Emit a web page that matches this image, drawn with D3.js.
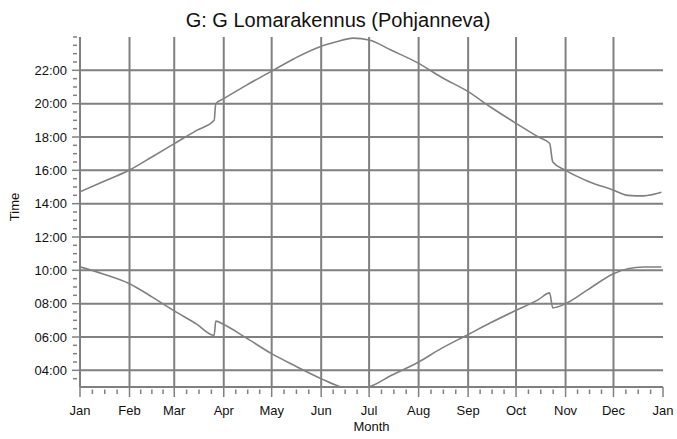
<!DOCTYPE html>
<html>
<head>
<meta charset="utf-8">
<script src="https://cdn.jsdelivr.net/npm/d3@7"></script>
<style>
  body { margin: 0; background: #fff; }
  text { font-family: Arial, "Liberation Sans", sans-serif; fill: #111; }
</style>
</head>
<body>
<svg id="chart" width="677" height="439"></svg>
<script>
// upper curve (evening)
var upperDates = ["01-01","01-15","02-01","02-15","03-01","03-15","03-26","03-27","04-01","04-15",
                  "05-01","05-15","06-01","06-10","06-21","07-01","07-15","08-01","08-15","09-01",
                  "09-15","10-01","10-15","10-22","10-24","11-01","11-15","12-01","12-10","12-20","12-31"];
var upperHours = [14.71,15.3,16.02,16.8,17.6,18.4,19.0,20.0,20.3,21.1,
                  21.95,22.7,23.45,23.7,23.93,23.82,23.2,22.42,21.6,20.72,
                  19.8,18.82,18.0,17.62,16.5,16.0,15.35,14.81,14.5,14.47,14.68];

// lower curve (morning)
var lowerDates = ["01-01","01-15","02-01","02-15","03-01","03-15","03-26","03-27","04-01","04-15",
                  "05-01","05-15","06-01","06-12","06-21","07-01","07-15","08-01","08-15","09-01",
                  "09-15","10-01","10-15","10-22","10-24","11-01","11-15","12-01","12-10","12-20","12-31"];
var lowerHours = [10.21,9.8,9.2,8.41,7.57,6.77,6.1,6.95,6.75,5.95,
                  5.0,4.3,3.5,3.05,2.9,3.02,3.7,4.5,5.3,6.15,
                  6.85,7.6,8.24,8.65,7.75,8.0,8.84,9.8,10.1,10.2,10.2];

var yTicks = [4,6,8,10,12,14,16,18,20,22];
var months = ["Jan","Feb","Mar","Apr","May","Jun","Jul","Aug","Sep","Oct","Nov","Dec","Jan"];

var svg = d3.select("#chart");
var margin = {top: 37, right: 14, bottom: 52, left: 80};
var width = 677 - margin.left - margin.right,
    height = 439 - margin.top - margin.bottom;
var grey = "#808080";

var parse = d3.timeParse("%Y-%m-%d");
var x = d3.scaleTime()
    .domain([new Date(2011, 0, 1), new Date(2012, 0, 1)])
    .range([0, width]);
var y = d3.scaleLinear().domain([3, 24]).range([height, 0]);

var g = svg.append("g").attr("transform", "translate(" + margin.left + "," + margin.top + ")");

var monthStarts = d3.timeMonth.range(new Date(2011, 0, 1), new Date(2012, 0, 2));

// grid
g.selectAll(".vgrid").data(monthStarts.slice(1, 12)).enter().append("line")
    .attr("x1", d => x(d)).attr("x2", d => x(d))
    .attr("y1", 0).attr("y2", height)
    .attr("stroke", grey).attr("stroke-width", 2);
g.selectAll(".hgrid").data(yTicks).enter().append("line")
    .attr("x1", 0).attr("x2", width)
    .attr("y1", d => y(d)).attr("y2", d => y(d))
    .attr("stroke", grey).attr("stroke-width", 2);

// minor ticks on x: quarters of each month
var minorX = [];
monthStarts.slice(0, 12).forEach(function(m, i) {
  var t0 = +m, t1 = +monthStarts[i + 1];
  for (var k = 1; k < 4; k++) minorX.push(new Date(t0 + (t1 - t0) * k / 4));
});
g.selectAll(".mx").data(minorX).enter().append("line")
    .attr("x1", d => x(d)).attr("x2", d => x(d))
    .attr("y1", height + 2.5).attr("y2", height + 7)
    .attr("stroke", grey).attr("stroke-width", 1.5);
g.selectAll(".Mx").data(monthStarts).enter().append("line")
    .attr("x1", d => x(d)).attr("x2", d => x(d))
    .attr("y1", height).attr("y2", height + 10)
    .attr("stroke", grey).attr("stroke-width", 1.5);
g.selectAll(".xl").data(monthStarts).enter().append("text")
    .attr("x", d => x(d)).attr("y", height + 28)
    .attr("text-anchor", "middle").style("font-size", "13px")
    .text((d, i) => months[i]);

// minor ticks on y: every half hour
var minorY = d3.range(3.5, 24.01, 0.5).filter(v => yTicks.indexOf(v) < 0);
g.selectAll(".my").data(minorY).enter().append("line")
    .attr("x1", -7).attr("x2", -3)
    .attr("y1", d => y(d)).attr("y2", d => y(d))
    .attr("stroke", grey).attr("stroke-width", 1.5);
g.selectAll(".My").data(yTicks).enter().append("line")
    .attr("x1", -8).attr("x2", 0)
    .attr("y1", d => y(d)).attr("y2", d => y(d))
    .attr("stroke", grey).attr("stroke-width", 1.5);
g.selectAll(".yl").data(yTicks).enter().append("text")
    .attr("x", -13).attr("y", d => y(d)).attr("dy", "0.35em")
    .attr("text-anchor", "end").style("font-size", "13px")
    .text(d => (d < 10 ? "0" : "") + d + ":00");

// axis lines
g.append("line").attr("x1", 0).attr("x2", 0).attr("y1", 0).attr("y2", height)
    .attr("stroke", grey).attr("stroke-width", 2);
g.append("line").attr("x1", 0).attr("x2", width).attr("y1", height).attr("y2", height)
    .attr("stroke", grey).attr("stroke-width", 2);

// data
g.append("clipPath").attr("id", "clip").append("rect")
    .attr("x", 0).attr("y", 0).attr("width", width).attr("height", height);
var line = d3.line().curve(d3.curveMonotoneX)
    .x(d => x(d[0])).y(d => y(d[1]));
[[upperDates, upperHours], [lowerDates, lowerHours]].forEach(function(s) {
  var pts = s[0].map((d, i) => [parse("2011-" + d), s[1][i]]);
  g.append("path").datum(pts)
      .attr("d", line)
      .attr("clip-path", "url(#clip)")
      .attr("fill", "none").attr("stroke", grey).attr("stroke-width", 1.6);
});

// titles
svg.append("text").attr("x", 338).attr("y", 27)
    .attr("text-anchor", "middle").style("font-size", "20px")
    .text("G: G Lomarakennus (Pohjanneva)");
svg.append("text").attr("x", margin.left + width / 2).attr("y", 431)
    .attr("text-anchor", "middle").style("font-size", "13px")
    .text("Month");
svg.append("text").attr("transform", "translate(19,207) rotate(-90)")
    .attr("text-anchor", "middle").style("font-size", "13px")
    .text("Time");
</script>
</body>
</html>
